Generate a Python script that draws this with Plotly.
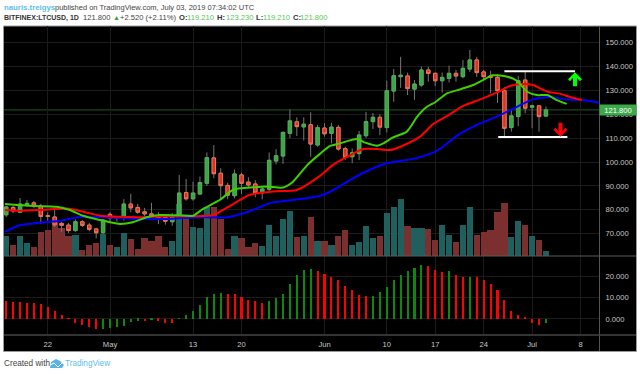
import plotly.graph_objects as go

# ---- data ----
days = list(range(79))  # day 0 = 16 Apr 2019
opens = [77.9,81,79,82,82.9,81.6,77.6,77,74.3,73.6,71.3,75,73.6,72,70.4,78.1,77,76.5,82.4,81,
         79.2,78.3,77.5,76.9,75,77.3,87.2,84.6,86.6,91.1,101.7,95.3,90.2,85.9,94.6,91.6,90.8,87.1,88.6,100.4,
         102.5,112,116.8,114.7,115.6,107.1,114.2,112,114.5,105.6,102.2,103.5,111,116.9,118.7,114.4,129.7,135.7,136,130.5,
         132.2,138.5,137.1,134,135,137.1,135.7,138.9,142.7,137.7,136,135.4,129.8,114.4,119,134.3,122.9,123.5,119.21]
highs = [81.6,81.6,84.9,84.1,83.7,82.5,78.9,80.3,74.9,74.5,76,75.7,74.5,72.5,76.2,79,77.2,84.5,86.7,82.5,
         80.8,82.9,79,78.2,78.6,94.6,92.9,91.8,93.9,104,107.1,97.4,91.3,96.9,95.5,93.6,92.4,90,104,105.4,
         112.7,122,118.7,118.7,120.8,115.5,116.2,116.4,115.5,106.4,105.7,113,121,120.5,120,134,138.9,144,137.4,134.3,
         139.9,139.9,137.4,137.4,140.3,138.5,142.7,146.9,144,138.5,138.2,136.8,131.3,121.8,136,137.8,124,123.9,123.23]
lows = [77,78.7,78.6,81.2,80.6,74,75.5,72.8,70.8,70.3,70.8,72.8,71,68,70,75,75,75.5,79,78.3,
        77.3,76.9,74,73.8,73.3,76,83.8,83.8,86.2,90,93.2,84.5,84.4,84.8,86.6,89,85.2,84.4,87.6,99,
        99.2,110,110.9,109,102.2,106.4,110.6,107.8,104.7,100.9,99.5,100.8,110,113.8,111.3,112.4,125.2,131,128,126,
        131.5,133.6,131.8,129,133.3,133.6,135,137.7,135.6,134.3,128.7,124.7,110.6,112.7,115,120.4,114.1,112.7,119.21]
closes = [81.2,79.5,82.4,82.7,81.6,77.2,77.2,73.7,73.5,71.3,75,73.5,71.8,70.4,75.7,76.5,76.4,82.4,80.8,79,
          78.3,77.4,76.6,75.2,77.4,87,84.6,87,91.4,101.8,95.1,90.1,86.1,95,91.1,90.4,87.1,88.7,100.7,102.6,
          112.4,117.2,114.8,115.8,107.5,114.4,111.8,114.6,105.4,102,103.9,111.3,116.9,118.7,114.6,129.8,136.1,136.3,130.7,132.6,
          138.5,137,134,135.4,137.1,136,139.2,142.7,137.4,135.7,135.4,129.8,114.1,119.3,134,122.5,123.5,119,121.8]

volume = [61,34,60,39,28,72,79,101,84,61,64,18,34,38,66,34,26,68,51,21,
          54,46,60,26,46,156,121,86,84,146,148,111,20,61,53,26,38,30,94,61,
          112,136,58,61,116,44,45,34,60,78,34,43,90,53,61,130,146,170,90,85,
          85,80,49,92,63,41,92,146,64,72,78,131,158,56,105,94,61,47,14]
volume_side = ["u","d","u","u","d","d","d","d","d","d","u","d","d","d","u","d","u","u","d","d",
               "d","d","d","d","u","u","d","u","u","u","d","d","d","u","d","d","d","u","u","u",
               "u","u","d","u","d","u","d","u","d","d","u","u","u","u","d","u","u","u","d","u",
               "u","d","d","u","u","d","u","u","d","d","d","d","d","u","u","d","u","d","u"]

hist = [8.7,8.2,8.0,7.7,7.4,6.9,5.5,3.9,2.0,0.2,-1.7,-2.7,-3.8,-4.7,-4.6,-4.3,-3.9,-3.1,-1.4,-0.9,
        -1.1,-0.3,-0.9,-1.7,-1.7,0.05,1.7,3.9,6.5,10.2,12,12.1,12,12,10.5,9,8.3,7.7,8.3,9.8,
        12,16.4,20.6,23,23.5,22.8,21.3,20,18.4,15.7,13.7,11.5,10.9,10.9,12.8,15,18.4,20.9,22.5,24.1,
        25.5,25,23.1,22,22.7,20.9,20,20,20,18.4,16.5,13.7,9,3.9,1.7,0.5,-1.7,-2.7,-2]
hist_side = ["d","d","d","d","d","d","d","d","d","d","d","d","d","d","u","u","u","u","u","u",
             "d","u","d","d","d","u","u","u","u","u","u","u","d","d","d","d","d","d","u","u",
             "u","u","u","u","u","d","d","d","d","d","d","d","d","u","u","u","u","u","u","u",
             "u","d","d","d","u","d","d","u","d","d","d","d","d","d","d","d","d","d","u"]

lips_day = [-0.2,1.6,3.9,7.3,9.2,11.1,13.6,15,16.4,18.3,20.3,22.2,25.1,27,28.4,30.9,32.8,35.7,37.7,40,41.4,43.5,45.3,
            46.8,48.2,50.7,51.9,53.6,54.5,55.9,57.9,59.4,60.8,62,63.7,65.6,67.5,68.9,70.3,72.4,73.8,75.3,76.7,78.2,79.6,81]
lips_val = [82.4,82,81.6,81.3,79.9,77.5,75.7,74.8,74.1,74.8,76.9,77.8,77.7,77.5,80.3,84.2,88.4,89.4,89.8,89.3,91.6,98.7,103.3,
            106.7,107.8,109.6,108.1,106.8,107.8,110.3,112.7,119,123.1,125,128.7,130.4,132.2,134.3,136.3,135.7,134,129.4,128,128,125.9,124.3]
teeth_day = [-0.2,1.6,4.9,8.8,11.1,13.6,16,19.3,23.2,27,29.9,32.8,35.2,38.6,42,45.3,47.1,49.3,51.6,53.6,55.5,57.3,59.8,61.7,
             63.8,66,68.5,70.9,72.8,74.7,76.1,78.2,80,81.5,83.2]
teeth_val = [79.9,79.6,79.9,80.5,79.2,77.5,77.1,76.9,77.3,77.3,77.8,82.4,86.3,87.7,88.3,94.1,98.5,102.2,105.4,105.4,105,106.8,110.6,115.9,
             119.4,123.4,126.2,129,131.8,132.6,132.2,129.4,128.6,127.2,125.9]
jaw_day = [-0.2,2,4.9,7.8,10.7,13.6,18.3,23.2,28,31.9,35.2,38.1,41.4,45.3,47.2,49.3,51.6,55,58.8,61.7,63.1,65.1,68,70.9,73.8,
           76.1,78.6,80.8,83.2,85.7]
jaw_val = [70.8,73.5,74.6,75.4,77.1,76.9,76.3,76.2,76.9,76.9,79.4,82.8,84.1,85.8,88.1,91.8,95.5,99.5,101.3,103.9,106.4,110.9,115.5,119,123.1,
           126.2,127.2,126.2,125.9,124.8]

date_ticks = [6,15,27,34,46,55,62,69,76,83]
date_labels = ["22","May","13","20","Jun","10","17","24","Jul","8"]
price_ticks = [70,80,90,100,110,120,130,140,150]
hist_ticks = [0,10,20]
last_price = 121.8
resistance = (72, 82.2, 138)   # day from, day to, price
support = (71.1, 81.1, 110.5)
up_arrow_at = (82.2, 137.6)
down_arrow_at = (80.1, 110.6)

W, H = 640, 374
def px(x): return x / W
def py(y): return 1 - y / H

GRID = "#1b1b1b"
TICK = "#c8c8c8"
FONT = "Liberation Sans"

fig = go.Figure()

fig.add_trace(go.Bar(x=days, y=volume, width=0.9, xaxis="x", yaxis="y",
                     marker=dict(color=["#1f5f5d" if s == "u" else "#7c2f2f" for s in volume_side], line_width=0)))

wick = dict(line=dict(color="#777777", width=1), fillcolor="#777777")
fig.add_trace(go.Candlestick(x=days, open=opens, high=highs, low=lows, close=closes, xaxis="x", yaxis="y2",
                             increasing=wick, decreasing=wick, whiskerwidth=0))
fig.add_trace(go.Candlestick(x=days, open=opens, close=closes,
                             high=[max(a, b) for a, b in zip(opens, closes)],
                             low=[min(a, b) for a, b in zip(opens, closes)],
                             xaxis="x", yaxis="y2", whiskerwidth=0,
                             increasing=dict(line=dict(color="#4cb050", width=1), fillcolor="#3aa648"),
                             decreasing=dict(line=dict(color="#ee7350", width=1), fillcolor="#dc3028")))

for dd, vv, col in [(jaw_day, jaw_val, "#0000ff"), (teeth_day, teeth_val, "#ff0000"), (lips_day, lips_val, "#3fd000")]:
    fig.add_trace(go.Scatter(x=dd, y=vv, mode="lines", xaxis="x", yaxis="y2",
                             line=dict(color=col, width=2, shape="spline", smoothing=0.6)))

fig.add_trace(go.Bar(x=days, y=hist, width=0.3, xaxis="x", yaxis="y3",
                     marker=dict(color=["#0a8a0a" if s == "u" else "#ff0000" for s in hist_side], line_width=0)))

def arrow_path(sign):
    pts = [(0, 0), (7, -7), (5, -9), (2, -5.5), (2, -14), (-2, -14), (-2, -5.5), (-5, -9), (-7, -7)]
    return "M " + " L ".join("%g %g" % (a, sign * b) for a, b in pts) + " Z"

shapes = [
    dict(type="rect", xref="paper", yref="paper", x0=px(3.5), x1=px(636.5), y0=py(351.5), y1=py(26),
         fillcolor="#000000", line=dict(color="#9a9a9a", width=1), layer="below"),
    dict(type="line", xref="paper", yref="paper", x0=px(599.5), x1=px(599.5), y0=py(351), y1=py(26),
         line=dict(color="#555555", width=1)),
    dict(type="line", xref="paper", yref="paper", x0=px(4), x1=px(636), y0=py(256), y1=py(256),
         line=dict(color="#5a5a5a", width=1)),
    dict(type="line", xref="paper", yref="paper", x0=px(4), x1=px(636), y0=py(335), y1=py(335),
         line=dict(color="#444444", width=1.5)),
    dict(type="line", xref="x domain", yref="y2", x0=0, x1=1, y0=last_price, y1=last_price,
         line=dict(color="#1c5a1e", width=1), layer="below"),
    dict(type="line", xref="x", yref="y2", x0=resistance[0], x1=resistance[1], y0=resistance[2], y1=resistance[2],
         line=dict(color="#ffffff", width=2)),
    dict(type="line", xref="x", yref="y2", x0=support[0], x1=support[1], y0=support[2], y1=support[2],
         line=dict(color="#ffffff", width=2)),
    dict(type="path", xref="x", yref="y2", xsizemode="pixel", ysizemode="pixel",
         xanchor=up_arrow_at[0], yanchor=up_arrow_at[1], path=arrow_path(1), fillcolor="#00ff00", line_width=0),
    dict(type="path", xref="x", yref="y2", xsizemode="pixel", ysizemode="pixel",
         xanchor=down_arrow_at[0], yanchor=down_arrow_at[1], path=arrow_path(-1), fillcolor="#ff0000", line_width=0),
    # TradingView logo
    dict(type="path", xref="paper", yref="paper", fillcolor="#58b4e6", line_width=0,
         path="M %f %f L %f %f L %f %f L %f %f L %f %f L %f %f Z" % (
             px(50), py(368), px(51), py(362), px(56), py(359), px(60), py(361), px(64), py(365), px(62), py(368))),
    dict(type="path", xref="paper", yref="paper", line=dict(color="#ffffff", width=1),
         path="M %f %f L %f %f L %f %f L %f %f" % (px(50), py(365), px(54), py(363), px(58), py(367), px(63), py(362))),
]

def text(x, y, s, color="#444444", size=7.6, bold=False, anchor="left"):
    return dict(xref="paper", yref="paper", x=px(x), y=py(y), text=("<b>%s</b>" % s) if bold else s,
                showarrow=False, xanchor=anchor, yanchor="middle",
                font=dict(family=FONT, size=size, color=color), borderpad=0, borderwidth=0)

LINK = "#5cc0ee"
UP = "#55c855"
annotations = [
    text(4, 7.5, "nauris.treigys", LINK, 7.8, True),
    text(55, 7.5, "published on TradingView.com, July 03, 2019 07:34:02 UTC", "#444444", 7.5),
    text(4, 18, "BITFINEX:LTCUSD, 1D", "#333333", 7, True),
    text(83, 18, "121.800", "#444444", 7.6),
    text(112.5, 18, "▲", "#2da82d", 7),
    text(120, 18, "+2.520 (+2.11%)", "#444444", 7.6),
    text(178.5, 18, "O:", "#333333", 7.6, True),
    text(187, 18, "119.210", UP, 7.6),
    text(217, 18, "H:", "#333333", 7.6, True),
    text(226, 18, "123.230", UP, 7.6),
    text(256, 18, "L:", "#333333", 7.6, True),
    text(263, 18, "119.210", UP, 7.6),
    text(292.5, 18, "C:", "#333333", 7.6, True),
    text(300, 18, "121.800", UP, 7.6),
    text(4, 363.5, "Created with", "#444444", 8.2),
    text(64.5, 363.5, "TradingView", LINK, 8.2),
    dict(xref="paper", yref="y2", x=px(618), y=last_price, text="121.800", showarrow=False, xanchor="center",
         yanchor="middle", font=dict(family=FONT, size=7.6, color="#ffffff"), bgcolor="#3daa4a",
         width=36, height=10, borderpad=0),
]

fig.update_layout(
    width=W, height=H, autosize=False, margin=dict(l=0, r=0, t=0, b=0),
    paper_bgcolor="#ffffff", plot_bgcolor="rgba(0,0,0,0)", showlegend=False, boxmode="overlay",
    bargap=0, shapes=shapes, annotations=annotations,
    xaxis=dict(domain=[px(4), px(599.5)], range=[-0.32, 85.74], anchor="y3", rangeslider=dict(visible=False),
               tickmode="array", tickvals=date_ticks, ticktext=date_labels, showgrid=True, gridcolor=GRID, gridwidth=1,
               zeroline=False, showline=False, ticks="", tickfont=dict(family=FONT, size=7.6, color=TICK),
               ticklabelstandoff=3),
    yaxis=dict(domain=[py(256), py(26)], range=[0, 690], visible=False, anchor="x", showgrid=False),
    yaxis2=dict(domain=[py(256), py(26)], range=[60.67, 156.9], overlaying="y", side="right", anchor="x",
                tickmode="array", tickvals=price_ticks, ticktext=["%.3f" % v for v in price_ticks],
                showgrid=True, gridcolor=GRID, gridwidth=1, zeroline=False, showline=False, ticks="",
                tickfont=dict(family=FONT, size=7.6, color=TICK), ticklabelstandoff=5),
    yaxis3=dict(domain=[py(335), py(256)], range=[-7.55, 29.7], side="right", anchor="x",
                tickmode="array", tickvals=hist_ticks, ticktext=["%.3f" % v for v in hist_ticks],
                showgrid=True, gridcolor=GRID, gridwidth=1, zeroline=False, showline=False, ticks="",
                tickfont=dict(family=FONT, size=7.6, color=TICK), ticklabelstandoff=5),
)

fig.write_html("out.html", config=dict(displayModeBar=False),
               post_script="document.body.style.margin='0';document.documentElement.style.overflow='hidden';")
